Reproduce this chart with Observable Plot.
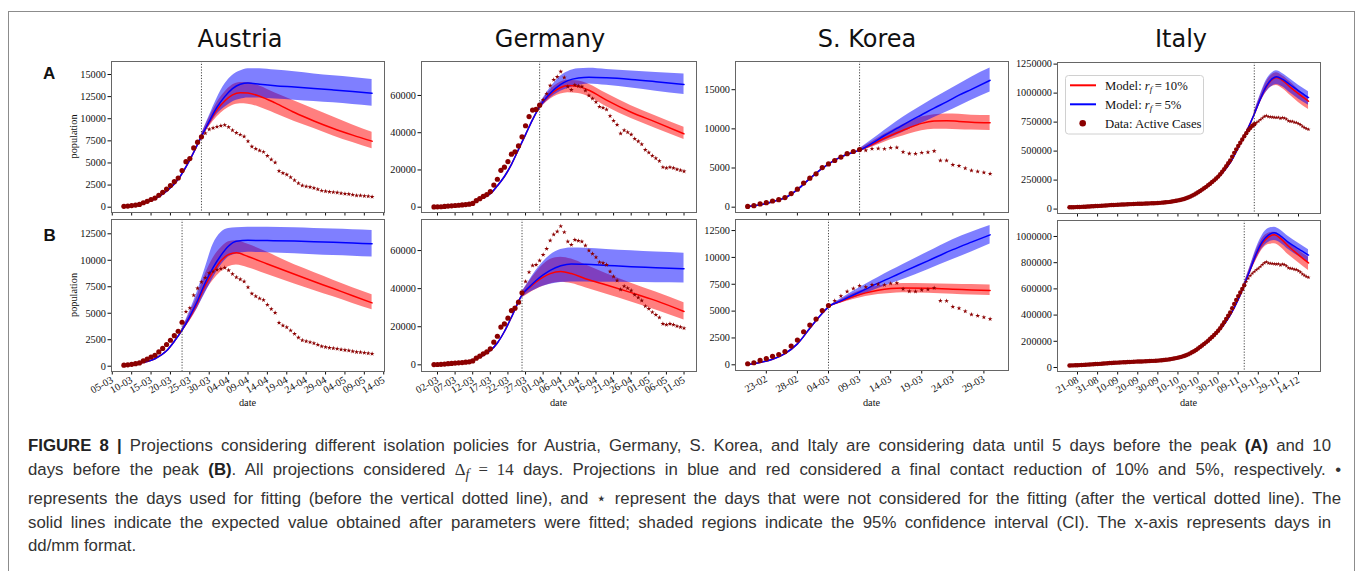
<!DOCTYPE html>
<html>
<head>
<meta charset="utf-8">
<script src="https://cdn.jsdelivr.net/npm/d3@7"></script>
<script src="https://cdn.jsdelivr.net/npm/@observablehq/plot@0.6"></script>
<style>
  html, body { margin: 0; padding: 0; background: #fff; }
  body { width: 1360px; height: 571px; overflow: hidden; position: relative; }
  #border { position: absolute; left: 8px; top: 11px; width: 1347px; height: 640px; border: 1px solid #8c8c8c; box-sizing: border-box; }
  #overlay { position: absolute; left: 0; top: 0; }
  #caption { position: absolute; left: 28px; top: 434px; font-family: "Liberation Sans", Arial, sans-serif; font-size: 16.8px; line-height: 23.75px; color: #333; }
  #caption .ln { white-space: nowrap; }
  #caption .j { text-align: justify; text-align-last: justify; }
  #caption b { color: #222; }
  #caption .m { font-family: "Liberation Serif", serif; }
</style>
</head>
<body>
<div id="border"></div>
<div id="plots"></div>
<svg id="overlay" width="1360" height="571"></svg>
<div id="caption">
  <div class="ln j" style="width:1303px"><b>FIGURE 8 |</b> Projections considering different isolation policies for Austria, Germany, S. Korea, and Italy are considering data until 5 days before the peak <b>(A)</b> and 10</div>
  <div class="ln j" style="width:1313px">days before the peak <b>(B)</b>. All projections considered <span class="m">Δ<sub><i>f</i></sub> = 14</span> days. Projections in blue and red considered a final contact reduction of 10% and 5%, respectively. •</div>
  <div class="ln j" style="width:1313px">represents the days used for fitting (before the vertical dotted line), and ⋆ represent the days that were not considered for the fitting (after the vertical dotted line). The</div>
  <div class="ln j" style="width:1303px">solid lines indicate the expected value obtained after parameters were fitted; shaded regions indicate the 95% confidence interval (CI). The x-axis represents days in</div>
  <div class="ln">dd/mm format.</div>
</div>
<script>
// ---------- Observed active cases (one value per day from the start date) ----------
const austriaStart = "08-03";
const austriaActive = [100,130,180,240,310,500,660,870,1030,1350,1680,2050,2450,2880,3300,4150,5150,5500,6700,7350,7950,8350,8800,8950,
  9100,9200,9300,9050,8700,8400,8200,8000,7450,6850,6600,6400,6250,5800,5400,5050,4100,3850,3680,3380,3050,2700,2450,2350,2270,2170,2030,1870,1800,1730,
  1700,1650,1580,1520,1480,1400,1330,1320,1270,1230,1170];

const germanyStart = "01-03";
const germanyActive = [150,180,250,400,600,750,900,1050,1200,1400,1600,2050,3500,4550,5800,6800,8400,11900,15000,19800,21500,24500,28500,29750,32900,37800,43750,48650,52150,52500,54800,
  57750,60900,65300,68400,70000,72800,69650,64750,63000,65600,65100,64750,62650,60000,58300,56500,53900,53400,52500,49000,46400,44300,39550,41300,40250,39000,36750,35350,33800,30800,
  29400,27650,26250,24850,21500,21000,21500,21000,20300,19800,19250];

const koreaStart = "20-02";
const koreaActive = [100,190,410,580,790,960,1230,1740,2300,3080,3700,4260,5050,5520,5960,6400,6830,7110,7360,7250,7450,7500,7440,7580,7620,
  7050,6840,6830,6960,7020,7160,5960,5950,5400,5270,4980,4690,4560,4430,4270];

const italyStart = "17-08";
const italyActive = [15360,15950,16460,16980,17500,18440,19200,19710,20750,21930,22870,23960,25100,26080,26750,
  27820,28920,29910,31190,32080,33790,34730,35710,36770,37500,38510,39190,39710,40530,41410,42460,43160,44100,45080,45490,45550,46110,46780,47720,48590,49620,50320,50630,51260,52650,
  54000,55500,57400,58900,60100,62500,65900,68500,71500,75000,79000,83000,87500,93000,100000,107500,116000,124500,134000,145000,156000,168000,180000,192000,205000,219000,233000,248000,264000,280000,300000,
  322000,345000,370000,395000,420000,452000,485000,515000,545000,572000,600000,628000,655000,680000,700000,718000,732000,745000,756000,770000,785000,798000,806000,797000,795000,793000,790000,789000,791000,781000,
  788000,784000,776000,760000,756000,755000,748000,746000,737000,727000,712000,702000,694000,688000];

// ---------- Axis ticks: positions (dd-mm) and the labels written at them ----------
const austriaDateTicks = ["05-03","10-03","15-03","20-03","25-03","30-03","04-04","09-04","14-04","19-04","24-04","29-04","04-05","09-05","14-05"];
const germanyDateTicks = ["02-03","07-03","12-03","17-03","22-03","27-03","01-04","06-04","11-04","16-04","21-04","26-04","01-05","06-05","11-05"];
const koreaDateTicks = ["23-02","28-02","04-03","09-03","14-03","19-03","24-03","29-03"];
const italyDateTicks = ["21-08","31-08","10-09","20-09","30-09","10-10","20-10","30-10","09-11","19-11","29-11","09-12"];
const italyTickLabels = ["21-08","31-08","10-09","20-09","30-09","10-10","20-10","30-10","09-11","19-11","29-11","14-12"];

const austriaYTicksA = [0,2500,5000,7500,10000,12500,15000];
const austriaYTicksB = [0,2500,5000,7500,10000,12500];
const germanyYTicks = [0,20000,40000,60000];
const koreaYTicksA = [0,5000,10000,15000];
const koreaYTicksB = [0,2500,5000,7500,10000,12500];
const italyYTicksA = [0,250000,500000,750000,1000000,1250000];
const italyYTicksB = [0,200000,400000,600000,800000,1000000];

// ---------- Model: Austria ----------
const austriaA_cutoff = "28-03";
const austriaA_fitDates = ["08-03","12-03","16-03","19-03","22-03","25-03","28-03"];
const austriaA_fit = [80,330,950,1800,3150,5350,8000];
const austriaA_projDates = ["28-03","30-03","01-04","03-04","05-04","07-04","09-04","12-04","16-04","21-04","26-04","01-05","06-05","11-05"];
const austriaA_blue   = [8000,9700,11300,12500,13400,13900,14050,13900,13730,13580,13420,13250,13080,12880];
const austriaA_blueHi = [8250,10300,12300,13900,14900,15400,15650,15650,15500,15300,15050,14850,14650,14430];
const austriaA_blueLo = [7800,9200,10500,11300,11900,12200,12350,12330,12230,12100,11950,11800,11620,11420];
const austriaA_red    = [8000,9600,11000,12000,12700,12950,12900,12550,11800,10700,9750,8900,8150,7460];
const austriaA_redHi  = [8250,10100,11800,13000,13800,14100,14100,13700,12900,12000,11100,10200,9300,8480];
const austriaA_redLo  = [7800,9100,10200,11000,11500,11700,11650,11300,10600,9700,8900,8050,7300,6600];

const austriaB_cutoff = "23-03";
const austriaB_fitDates = ["08-03","12-03","16-03","19-03","21-03","23-03"];
const austriaB_fit = [60,280,700,1450,2350,3400];
const austriaB_projDates = ["23-03","25-03","27-03","29-03","31-03","02-04","04-04","06-04","09-04","14-04","21-04","26-04","01-05","06-05","11-05"];
const austriaB_blue   = [3400,4700,6200,7900,9300,10450,11350,11800,11880,11860,11810,11760,11700,11630,11560];
const austriaB_blueHi = [3530,5200,7100,9300,11500,12600,13000,13080,13130,13120,13070,13000,12950,12880,12820];
const austriaB_blueLo = [3250,4300,5500,6900,8300,9500,10300,10600,10750,10720,10620,10520,10450,10380,10300];
const austriaB_red    = [3400,4600,6050,7650,8900,9950,10550,10700,10350,9650,8680,8000,7330,6650,5980];
const austriaB_redHi  = [3530,5000,6700,8700,10200,11150,11750,11850,11520,10750,9570,8850,8120,7400,6740];
const austriaB_redLo  = [3250,4250,5500,7000,8100,8900,9400,9550,9300,8650,7750,7150,6550,5930,5320];

// ---------- Model: Germany ----------
const germanyA_cutoff = "31-03";
const germanyA_fitDates = ["01-03","07-03","12-03","15-03","17-03","19-03","21-03","23-03","25-03","27-03","29-03","31-03"];
const germanyA_fit = [100,600,2500,5000,7200,11500,16500,23000,31000,39000,47000,54000];
const germanyA_projDates = ["31-03","02-04","04-04","06-04","08-04","11-04","14-04","19-04","26-04","03-05","11-05"];
const germanyA_blue   = [54000,59000,63000,66000,68000,69400,69800,69500,68600,67400,65900];
const germanyA_blueHi = [55500,61500,66500,70500,72800,74300,74600,74000,73200,72300,71600];
const germanyA_blueLo = [52500,56800,60000,62300,63800,65300,66200,65500,64000,62300,60500];
const germanyA_red    = [54000,58500,62000,64300,65300,64800,62800,57500,51000,45700,39400];
const germanyA_redHi  = [55300,60500,64800,67300,68200,67800,66000,61000,54500,49000,43000];
const germanyA_redLo  = [52700,56500,59200,60800,61500,61000,59200,54000,47600,42300,36300];

const germanyB_cutoff = "26-03";
const germanyB_fitDates = ["01-03","07-03","12-03","15-03","17-03","19-03","21-03","23-03","26-03"];
const germanyB_fit = [100,600,2500,5000,7500,11500,17500,25000,36750];
const germanyB_projDates = ["26-03","28-03","30-03","01-04","03-04","06-04","09-04","13-04","19-04","26-04","03-05","11-05"];
const germanyB_blue   = [36750,40800,44300,47200,49600,52000,53000,52800,52200,51500,51000,50400];
const germanyB_blueHi = [38300,44000,49500,54000,57500,60500,61400,61200,60600,59900,59200,58600];
const germanyB_blueLo = [35200,37800,39700,41200,42300,43200,43500,43500,43300,43200,43100,43000];
const germanyB_red    = [36750,40400,43600,46100,47900,49000,47900,45200,41900,37900,33700,28000];
const germanyB_redHi  = [38300,43500,48500,52500,55300,56500,55500,52500,47800,42800,38200,32550];
const germanyB_redLo  = [35200,37500,39500,41200,42500,43400,42700,40500,37000,33000,28800,23600];

// ---------- Model: S. Korea ----------
const koreaA_cutoff = "09-03";
const koreaA_fitDates = ["20-02","22-02","24-02","26-02","28-02","01-03","03-03","05-03","07-03","09-03"];
const koreaA_fit = [80,300,700,1200,2250,3650,4950,6000,6750,7280];
const koreaA_projDates = ["09-03","11-03","13-03","15-03","17-03","19-03","21-03","23-03","25-03","27-03","30-03"];
const koreaA_blue   = [7280,8150,9150,10050,10950,11800,12650,13450,14300,15050,16200];
const koreaA_blueHi = [7450,8600,9800,10950,12000,12950,13900,14800,15700,16600,17760];
const koreaA_blueLo = [7100,7750,8500,9200,9950,10700,11450,12150,12900,13650,14700];
const koreaA_red    = [7280,8000,8800,9500,10150,10700,11000,11050,10950,10850,10780];
const koreaA_redHi  = [7450,8350,9300,10150,10900,11500,11800,11900,11850,11750,11700];
const koreaA_redLo  = [7100,7650,8300,8850,9350,9750,9950,9950,9900,9850,9800];

const koreaB_cutoff = "04-03";
const koreaB_fitDates = ["20-02","22-02","24-02","26-02","28-02","01-03","03-03","04-03"];
const koreaB_fit = [40,220,520,1050,1950,3400,4800,5400];
const koreaB_projDates = ["04-03","06-03","08-03","10-03","12-03","14-03","16-03","20-03","24-03","27-03","30-03"];
const koreaB_blue   = [5400,5950,6500,7050,7600,8120,8650,9680,10720,11420,12100];
const koreaB_blueHi = [5450,6150,6850,7500,8130,8750,9350,10500,11650,12350,12960];
const koreaB_blueLo = [5350,5780,6200,6650,7100,7550,7950,8850,9800,10500,11250];
const koreaB_red    = [5400,5900,6350,6700,6950,7100,7150,7120,7040,6970,6910];
const koreaB_redHi  = [5450,6050,6650,7050,7330,7480,7560,7550,7510,7470,7440];
const koreaB_redLo  = [5350,5750,6070,6350,6550,6650,6700,6660,6570,6500,6450];

// ---------- Model: Italy ----------
const italyA_cutoff = "17-11";
const italyA_fitDates = ["17-08","21-08","31-08","10-09","20-09","30-09","07-10","12-10","16-10","20-10","24-10","28-10","01-11","05-11","09-11","13-11","17-11"];
const italyA_fit = [13000,15500,23000,33000,42000,51000,60000,76000,100000,138000,185000,242000,310000,400000,530000,665000,820000];
const italyA_projDates = ["17-11","20-11","23-11","26-11","28-11","01-12","05-12","09-12","14-12"];
const italyA_blue   = [820000,950000,1060000,1125000,1142000,1120000,1070000,1020000,962000];
const italyA_blueHi = [840000,985000,1110000,1175000,1192000,1170000,1120000,1068000,1012000];
const italyA_blueLo = [800000,915000,1010000,1060000,1075000,1055000,1000000,950000,896000];
const italyA_red    = [820000,948000,1055000,1118000,1135000,1110000,1050000,995000,930000];
const italyA_redHi  = [838000,975000,1095000,1160000,1175000,1150000,1095000,1030000,962000];
const italyA_redLo  = [802000,920000,1010000,1060000,1065000,1040000,980000,920000,858000];

const italyB_cutoff = "12-11";
const italyB_fitDates = ["17-08","21-08","31-08","10-09","20-09","30-09","07-10","12-10","16-10","20-10","24-10","28-10","01-11","05-11","09-11","12-11"];
const italyB_fit = [13000,15500,23000,33000,42000,51000,60000,76000,100000,138000,185000,242000,310000,400000,520000,630000];
const italyB_projDates = ["12-11","15-11","18-11","21-11","24-11","27-11","30-11","04-12","09-12","14-12"];
const italyB_blue   = [630000,750000,870000,960000,1010000,1028000,1005000,955000,905000,858000];
const italyB_blueHi = [645000,775000,910000,1010000,1060000,1071000,1050000,1000000,948000,898000];
const italyB_blueLo = [615000,722000,825000,910000,955000,969000,950000,900000,850000,804000];
const italyB_red    = [630000,748000,862000,948000,995000,1013000,985000,925000,860000,798000];
const italyB_redHi  = [645000,770000,895000,985000,1025000,1033000,1010000,955000,895000,842000];
const italyB_redLo  = [615000,720000,820000,900000,938000,944000,920000,860000,800000,740000];

// ---------- helpers ----------
const YEAR = 2020;
const day = s => new Date(Date.UTC(YEAR, +s.slice(3, 5) - 1, +s.slice(0, 2)));
const daily = (start, values) => { const t0 = day(start); return values.map((v, i) => ({date: d3.utcDay.offset(t0, i), value: v})); };
const series = (dates, values) => dates.map((s, i) => ({date: day(s), value: values[i]}));
const band = (dates, lo, hi) => dates.map((s, i) => ({date: day(s), lo: lo[i], hi: hi[i]}));

const austriaData = daily(austriaStart, austriaActive);
const germanyData = daily(germanyStart, germanyActive);
const koreaData = daily(koreaStart, koreaActive);
const italyData = daily(italyStart, italyActive);

const austriaX = ["2020-03-04T19:12Z", "2020-05-14T04:48Z"];
const germanyX = ["2020-02-26T11:00Z", "2020-05-14T13:00Z"];
const koreaX = ["2020-02-18T01:00Z", "2020-04-01T23:00Z"];
const italyX = ["2020-08-11T01:00Z", "2020-12-19T23:00Z"];

const colA = [111, 384], colG = [421, 696], colK = [735, 1008], colI = [1057, 1320];
const rowA = [61, 212], rowB = [219, 371];

const M = {left: 52, right: 6, top: 6, bottom: 50};
const DARKRED = "#8b0000";

function panel(p) {
  const [x0, x1] = p.col, [y0, y1] = p.row;
  const cut = day(p.cutoff);
  const fitted = p.data.filter(d => d.date <= cut);
  const unseen = p.data.filter(d => d.date > cut);
  const fitLine = series(p.fitDates, p.fit);
  const blueLine = fitLine.concat(series(p.projDates, p.blue).slice(1));
  const redLine = fitLine.concat(series(p.projDates, p.red).slice(1));
  const labels = p.xTickLabels || p.xTicks;
  const tickLabel = new Map(p.xTicks.map((s, i) => [+day(s), labels[i]]));
  const svg = Plot.plot({
    width: x1 - x0 + M.left + M.right,
    height: y1 - y0 + M.top + M.bottom,
    marginLeft: M.left, marginRight: M.right, marginTop: M.top, marginBottom: M.bottom,
    style: {background: "transparent", overflow: "visible", fontFamily: '"Liberation Serif", "Times New Roman", serif', fontSize: "10.3px", color: "#111"},
    x: {type: "utc", domain: p.xDomain.map(s => new Date(s)), ticks: p.xTicks.map(day),
        tickFormat: p.xLabels ? (d => tickLabel.get(+d) ?? "") : (() => ""),
        tickRotate: -30, tickSize: 3.5, tickPadding: 4, label: null},
    y: {domain: p.yDomain, ticks: p.yTicks, tickFormat: d => String(d), tickSize: 3.5, tickPadding: 2, label: null},
    marks: [
      Plot.areaY(band(p.projDates, p.redLo, p.redHi), {x: "date", y1: "lo", y2: "hi", fill: "#ff0000", fillOpacity: 0.5, curve: "monotone-x"}),
      Plot.areaY(band(p.projDates, p.blueLo, p.blueHi), {x: "date", y1: "lo", y2: "hi", fill: "#0000ff", fillOpacity: 0.5, curve: "monotone-x"}),
      Plot.line(redLine, {x: "date", y: "value", stroke: "#ff0000", strokeWidth: 1.5, curve: "monotone-x"}),
      Plot.line(blueLine, {x: "date", y: "value", stroke: "#0000ff", strokeWidth: 1.5, curve: "monotone-x"}),
      Plot.ruleX([cut], {stroke: "#333", strokeWidth: 0.9, strokeDasharray: "1.2,1.6"}),
      Plot.dot(fitted, {x: "date", y: "value", r: p.dotR, fill: DARKRED}),
      Plot.dot(unseen, {x: "date", y: "value", r: p.starR, fill: DARKRED, symbol: "star"}),
      Plot.frame({stroke: "#666"})
    ]
  });
  svg.style.position = "absolute";
  svg.style.left = (x0 - M.left) + "px";
  svg.style.top = (y0 - M.top) + "px";
  document.getElementById("plots").appendChild(svg);
}

const panels = [
  {col: colA, row: rowA, xDomain: austriaX, xTicks: austriaDateTicks, xLabels: false, yDomain: [-600, 16470], yTicks: austriaYTicksA, data: austriaData,
   cutoff: austriaA_cutoff, fitDates: austriaA_fitDates, fit: austriaA_fit, projDates: austriaA_projDates,
   blue: austriaA_blue, blueLo: austriaA_blueLo, blueHi: austriaA_blueHi, red: austriaA_red, redLo: austriaA_redLo, redHi: austriaA_redHi, dotR: 2.6, starR: 1.5},
  {col: colA, row: rowB, xDomain: austriaX, xTicks: austriaDateTicks, xLabels: true, yDomain: [-500, 13850], yTicks: austriaYTicksB, data: austriaData,
   cutoff: austriaB_cutoff, fitDates: austriaB_fitDates, fit: austriaB_fit, projDates: austriaB_projDates,
   blue: austriaB_blue, blueLo: austriaB_blueLo, blueHi: austriaB_blueHi, red: austriaB_red, redLo: austriaB_redLo, redHi: austriaB_redHi, dotR: 2.6, starR: 1.5},
  {col: colG, row: rowA, xDomain: germanyX, xTicks: germanyDateTicks, xLabels: false, yDomain: [-2850, 78250], yTicks: germanyYTicks, data: germanyData,
   cutoff: germanyA_cutoff, fitDates: germanyA_fitDates, fit: germanyA_fit, projDates: germanyA_projDates,
   blue: germanyA_blue, blueLo: germanyA_blueLo, blueHi: germanyA_blueHi, red: germanyA_red, redLo: germanyA_redLo, redHi: germanyA_redHi, dotR: 2.6, starR: 1.5},
  {col: colG, row: rowB, xDomain: germanyX, xTicks: germanyDateTicks, xLabels: true, yDomain: [-3500, 76300], yTicks: germanyYTicks, data: germanyData,
   cutoff: germanyB_cutoff, fitDates: germanyB_fitDates, fit: germanyB_fit, projDates: germanyB_projDates,
   blue: germanyB_blue, blueLo: germanyB_blueLo, blueHi: germanyB_blueHi, red: germanyB_red, redLo: germanyB_redLo, redHi: germanyB_redHi, dotR: 2.6, starR: 1.5},
  {col: colK, row: rowA, xDomain: koreaX, xTicks: koreaDateTicks, xLabels: false, yDomain: [-680, 18600], yTicks: koreaYTicksA, data: koreaData,
   cutoff: koreaA_cutoff, fitDates: koreaA_fitDates, fit: koreaA_fit, projDates: koreaA_projDates,
   blue: koreaA_blue, blueLo: koreaA_blueLo, blueHi: koreaA_blueHi, red: koreaA_red, redLo: koreaA_redLo, redHi: koreaA_redHi, dotR: 2.6, starR: 1.5},
  {col: colK, row: [219, 370], xDomain: koreaX, xTicks: koreaDateTicks, xLabels: true, yDomain: [-530, 13530], yTicks: koreaYTicksB, data: koreaData,
   cutoff: koreaB_cutoff, fitDates: koreaB_fitDates, fit: koreaB_fit, projDates: koreaB_projDates,
   blue: koreaB_blue, blueLo: koreaB_blueLo, blueHi: koreaB_blueHi, red: koreaB_red, redLo: koreaB_redLo, redHi: koreaB_redHi, dotR: 2.6, starR: 1.5},
  {col: colI, row: [62, 213], xDomain: italyX, xTicks: italyDateTicks, xTickLabels: italyTickLabels, xLabels: false, yDomain: [-38000, 1264000], yTicks: italyYTicksA, data: italyData,
   cutoff: italyA_cutoff, fitDates: italyA_fitDates, fit: italyA_fit, projDates: italyA_projDates,
   blue: italyA_blue, blueLo: italyA_blueLo, blueHi: italyA_blueHi, red: italyA_red, redLo: italyA_redLo, redHi: italyA_redHi, dotR: 2.2, starR: 1.3},
  {col: colI, row: [220, 371], xDomain: italyX, xTicks: italyDateTicks, xTickLabels: italyTickLabels, xLabels: true, yDomain: [-30600, 1122000], yTicks: italyYTicksB, data: italyData,
   cutoff: italyB_cutoff, fitDates: italyB_fitDates, fit: italyB_fit, projDates: italyB_projDates,
   blue: italyB_blue, blueLo: italyB_blueLo, blueHi: italyB_blueHi, red: italyB_red, redLo: italyB_redLo, redHi: italyB_redHi, dotR: 2.2, starR: 1.3}
];
panels.forEach(panel);

// ---------- titles, panel letters, axis titles, legend ----------
const countries = ["Austria", "Germany", "S. Korea", "Italy"];
const titleX = [240, 550, 867, 1181];
const ov = d3.select("#overlay");
ov.selectAll("text.title").data(countries).join("text")
  .attr("class", "title").attr("x", (d, i) => titleX[i]).attr("y", 47)
  .attr("text-anchor", "middle").attr("font-family", '"DejaVu Sans", Verdana, sans-serif')
  .attr("font-size", 24).attr("fill", "#111").text(d => d);

ov.append("text").attr("x", 43).attr("y", 78.5).attr("font-family", '"Liberation Sans", Arial, sans-serif')
  .attr("font-weight", "bold").attr("font-size", 17).attr("fill", "#111").text("A");
ov.append("text").attr("x", 43.5).attr("y", 240.5).attr("font-family", '"Liberation Sans", Arial, sans-serif')
  .attr("font-weight", "bold").attr("font-size", 17).attr("fill", "#111").text("B");

const serif = '"Liberation Serif", "Times New Roman", serif';
[[136.5], [295]].forEach(([cy]) => {
  ov.append("text").attr("transform", `translate(74,${cy}) rotate(-90)`).attr("text-anchor", "middle")
    .attr("dy", "0.32em").attr("font-family", serif).attr("font-size", 10.3).attr("fill", "#111").text("population");
});
[colA, colG, colK, colI].forEach(([a, b]) => {
  ov.append("text").attr("x", (a + b) / 2).attr("y", 406).attr("text-anchor", "middle")
    .attr("font-family", serif).attr("font-size", 10.3).attr("fill", "#111").text("date");
});

// legend in the Italy (A) panel
const lg = ov.append("g").attr("font-family", serif).attr("font-size", 12.7).attr("fill", "#111");
lg.append("rect").attr("x", 1065.5).attr("y", 75.5).attr("width", 138).attr("height", 58.5).attr("rx", 3)
  .attr("fill", "#fff").attr("fill-opacity", 0.8).attr("stroke", "#d0d0d0");
lg.append("line").attr("x1", 1070).attr("x2", 1096).attr("y1", 85.3).attr("y2", 85.3).attr("stroke", "#ff0000").attr("stroke-width", 2);
lg.append("line").attr("x1", 1070).attr("x2", 1096).attr("y1", 104.3).attr("y2", 104.3).attr("stroke", "#0000ff").attr("stroke-width", 2);
lg.append("circle").attr("cx", 1082.7).attr("cy", 123.3).attr("r", 3.3).attr("fill", DARKRED);
[["10%", 89.6], ["5%", 108.6]].forEach(([pct, y]) => {
  const t = lg.append("text").attr("x", 1105).attr("y", y);
  t.append("tspan").text("Model: ");
  t.append("tspan").attr("font-style", "italic").text("r");
  t.append("tspan").attr("font-style", "italic").attr("font-size", 9).attr("dy", 2.5).text("f");
  t.append("tspan").attr("dy", -2.5).text("\u2009=\u2009" + pct);
});
lg.append("text").attr("x", 1105).attr("y", 127.6).text("Data: Active Cases");
</script>
</body>
</html>
